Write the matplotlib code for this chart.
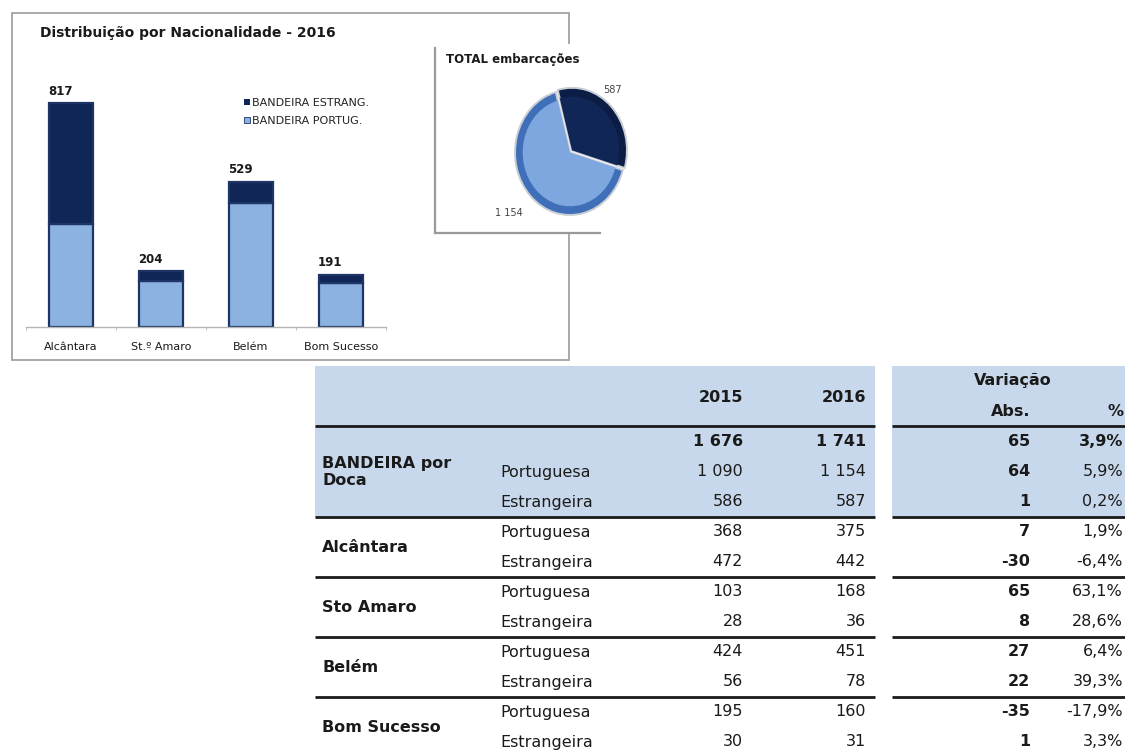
import matplotlib
matplotlib.use("Agg")
import matplotlib.pyplot as plt
from matplotlib.patches import Rectangle, Patch
import numpy as np

# ---------------- data ----------------
chart_title = "Distribuição por Nacionalidade - 2016"
bar_categories = ["Alcântara", "St.º Amaro", "Belém", "Bom Sucesso"]
bar_portug_2016 = [375, 168, 451, 160]
bar_estrang_2016 = [442, 36, 78, 31]
bar_totals = [817, 204, 529, 191]
legend_labels = ["BANDEIRA ESTRANG.", "BANDEIRA PORTUG."]

pie_title = "TOTAL embarcações"
pie_values = [587, 1154]  # estrangeira, portuguesa

table_groups = ["BANDEIRA por\nDoca", "Alcântara", "Sto Amaro", "Belém", "Bom Sucesso"]
table_subrows = ["Portuguesa", "Estrangeira"]
table_years = ["2015", "2016"]
table_var_header = ["Variação", "Abs.", "%"]
total_2015 = 1676
total_2016 = 1741
total_abs = 65
total_pct = 3.9
vals_2015 = [[1090, 586], [368, 472], [103, 28], [424, 56], [195, 30]]
vals_2016 = [[1154, 587], [375, 442], [168, 36], [451, 78], [160, 31]]
var_abs = [[64, 1], [7, -30], [65, 8], [27, 22], [-35, 1]]
var_pct = [[5.9, 0.2], [1.9, -6.4], [63.1, 28.6], [6.4, 39.3], [-17.9, 3.3]]

# ---------------- style ----------------
W, H = 1125, 752
DARK = "#0f2656"
LIGHT = "#8cb2e2"
EDGE = "#1c3566"
TXT = "#1a1a1a"
SHADE = "#c8d8ec"

plt.rcParams["font.family"] = ["DejaVu Sans"]


def frect(x0, y0, x1, y1):
    return [x0 / W, 1 - y1 / H, (x1 - x0) / W, (y1 - y0) / H]


def fmt_int(v):
    return f"{v:,}".replace(",", " ")


def fmt_pct(p):
    return f"{p:.1f}%".replace(".", ",")


fig = plt.figure(figsize=(W / 100, H / 100), dpi=100)
fig.patch.set_facecolor("white")

# overlay axes in pixel coordinates
ov = fig.add_axes([0, 0, 1, 1])
ov.set_xlim(0, W)
ov.set_ylim(H, 0)
ov.axis("off")
ov.set_zorder(0)

# ---------------- bar chart ----------------
ov.add_patch(Rectangle((12, 13), 557, 347, facecolor="none",
                       edgecolor="#a3a3a3", lw=1.3, zorder=1))
ov.text(40, 33, chart_title, fontsize=10, fontweight="bold",
        va="center", ha="left", color=TXT, zorder=2)

ax = fig.add_axes(frect(26, 53, 386, 327))
ax.set_zorder(1)
ax.set_facecolor("none")
x = np.arange(len(bar_categories))
bw = 0.48
ax.bar(x, bar_portug_2016, width=bw, color=LIGHT, edgecolor=EDGE, lw=1.6)
ax.bar(x, bar_estrang_2016, width=bw, bottom=bar_portug_2016, color=DARK,
       edgecolor=EDGE, lw=1.6)
ax.set_xlim(-0.5, 3.5)
ax.set_ylim(0, 1000)
for s in ["left", "top", "right"]:
    ax.spines[s].set_visible(False)
ax.spines["bottom"].set_color("#b5b5b5")
ax.spines["bottom"].set_linewidth(1.0)
ax.set_yticks([])
ax.set_xticks(x, bar_categories, fontsize=8, color=TXT)
ax.tick_params(axis="x", which="major", length=0, pad=11)
ax.set_xticks(np.arange(-0.5, 4.0, 1.0), minor=True)
ax.tick_params(axis="x", which="minor", length=2.5, color="#b5b5b5")
tops = np.array(bar_portug_2016) + np.array(bar_estrang_2016)
for i, (t, lab) in enumerate(zip(tops, bar_totals)):
    ax.annotate(f"{lab}", xy=(i - bw / 2, t), xytext=(-1, 4),
                textcoords="offset points", ha="left", va="bottom",
                fontsize=8.5, fontweight="bold", color=TXT)
handles = [Patch(facecolor=DARK, edgecolor="none"),
           Patch(facecolor=LIGHT, edgecolor=EDGE, lw=0.6)]
ax.legend(handles, legend_labels, loc="upper left",
          bbox_to_anchor=(244 / W, 1 - 98 / H), bbox_transform=fig.transFigure,
          frameon=False, fontsize=8, handlelength=0.55, handleheight=0.55,
          handletextpad=0.15, labelspacing=0.7, borderpad=0, borderaxespad=0,
          labelcolor="#222222")

# ---------------- pie inset ----------------
ov.add_patch(Rectangle((435, 44), 215, 189, facecolor="white",
                       edgecolor="none", zorder=3))
ov.plot([435, 435], [48, 233], color="#9a9a9a", lw=1.6, zorder=4)
ov.plot([435, 600], [233, 233], color="#9a9a9a", lw=1.6, zorder=4)
ov.text(446, 60, pie_title, fontsize=8.5, fontweight="bold", va="center",
        ha="left", color=TXT, zorder=5)
ov.text(613, 90, fmt_int(pie_values[0]), fontsize=7, color="#444444",
        ha="center", va="center", zorder=5)
ov.text(509, 213, fmt_int(pie_values[1]), fontsize=7, color="#444444",
        ha="center", va="center", zorder=5)

pa = fig.add_axes(frect(515, 90, 625, 215))
pa.set_zorder(5)
w_outer, _ = pa.pie(pie_values, colors=["#0b1d45", "#3f6fb8"], startangle=105,
                    counterclock=False, explode=[0.05, 0], radius=1.0,
                    wedgeprops=dict(edgecolor="#c9cdd4", linewidth=1.4))
w_inner, _ = pa.pie(pie_values, colors=[DARK, "#7ea6df"], startangle=105,
                    counterclock=False, explode=[0.05, 0], radius=0.86,
                    wedgeprops=dict(edgecolor="none"))
for w in list(w_outer) + list(w_inner):
    w.set_clip_on(False)
pa.set_aspect("auto")
pa.set_xlim(-1, 1)
pa.set_ylim(-1, 1)
pa.axis("off")

# ---------------- table ----------------
LX0, LX1 = 315, 875
RX0, RX1 = 892, 1125
ov.add_patch(Rectangle((LX0, 366), LX1 - LX0, 151, facecolor=SHADE,
                       edgecolor="none", zorder=1))
ov.add_patch(Rectangle((RX0, 366), RX1 - RX0, 151, facecolor=SHADE,
                       edgecolor="none", zorder=1))

C_SUB = 500
C_2015 = 743
C_2016 = 866
C_ABS = 1030
C_PCT = 1123
FS = 11.5


def hline(y, lw=2.0, color="#1a1a1a"):
    ov.plot([LX0, LX1], [y, y], color=color, lw=lw, solid_capstyle="butt", zorder=2)
    ov.plot([RX0, RX1], [y, y], color=color, lw=lw, solid_capstyle="butt", zorder=2)


def t(xp, yp, s, ha="right", bold=False, fs=FS):
    ov.text(xp, yp, s, ha=ha, va="center", fontsize=fs,
            fontweight="bold" if bold else "normal", color=TXT, zorder=3)


# header
t(C_2015, 397, table_years[0], bold=True)
t(C_2016, 397, table_years[1], bold=True)
t(1013, 381, table_var_header[0], ha="center", bold=True)
t(C_ABS, 412, table_var_header[1], bold=True)
t(C_PCT, 412, table_var_header[2], bold=True)
hline(426)

# totals row
t(C_2015, 442, fmt_int(total_2015), bold=True)
t(C_2016, 442, fmt_int(total_2016), bold=True)
t(C_ABS, 442, fmt_int(total_abs), bold=True)
t(C_PCT, 442, fmt_pct(total_pct), bold=True)

for g in range(len(table_groups)):
    if g == 0:
        ys = [472, 502]
    else:
        base = 532 + 60 * (g - 1)
        ys = [base, base + 30]
    t(322, (ys[0] + ys[1]) / 2 if g else ys[0], table_groups[g], ha="left",
      bold=True, fs=FS)
    for k in range(2):
        t(C_SUB, ys[k], table_subrows[k], ha="left")
        t(C_2015, ys[k], fmt_int(vals_2015[g][k]))
        t(C_2016, ys[k], fmt_int(vals_2016[g][k]))
        t(C_ABS, ys[k], fmt_int(var_abs[g][k]), bold=True)
        t(C_PCT, ys[k], fmt_pct(var_pct[g][k]))
    if g < len(table_groups) - 1:
        hline(ys[1] + 15)

fig.savefig("out.png", dpi=100, facecolor="white")
